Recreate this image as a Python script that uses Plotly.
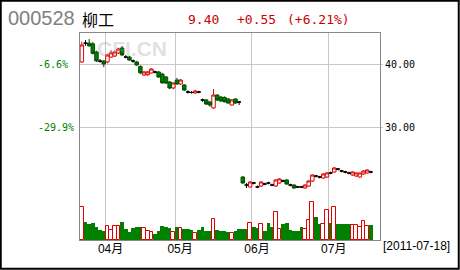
import plotly.graph_objects as go

# ---- data ----
opens = [40.32, 43.30, 43.30, 43.20, 41.90, 40.45, 40.48, 40.32, 41.10, 41.27,
         41.75, 42.54, 41.10, 41.11, 40.48, 40.32, 39.60, 38.25, 38.30, 38.57,
         38.73, 38.73, 38.40, 37.94, 37.14, 36.19, 37.46, 36.83, 36.67, 35.56,
         35.48, 35.40, 35.56, 34.29, 34.29, 33.97, 33.02, 35.08, 34.76, 34.70,
         34.45, 33.49, 34.45, 33.97, 22.06, 20.79, 20.48, 21.11, 20.48, 20.63,
         20.95, 21.11, 20.79, 20.63, 21.11, 21.43, 21.59, 20.79, 20.79, 20.48,
         20.48, 20.32, 20.63, 21.43, 22.22, 22.06, 21.90, 22.06, 22.70, 22.86,
         23.33, 23.02, 22.86, 22.70, 22.38, 22.22, 22.06, 22.54, 22.70, 22.86]
highs = [43.54, 43.80, 43.97, 43.50, 42.10, 40.80, 40.60, 41.60, 42.20, 42.10,
         42.60, 42.86, 41.40, 41.30, 40.70, 40.50, 39.80, 38.90, 38.90, 39.35,
         38.95, 38.90, 38.60, 38.10, 37.30, 37.10, 37.80, 37.60, 36.80, 35.80,
         35.70, 35.90, 35.75, 34.50, 34.40, 34.10, 36.03, 35.20, 34.90, 34.85,
         34.60, 34.40, 34.55, 34.10, 22.20, 21.10, 21.40, 21.30, 20.70, 21.40,
         21.15, 21.30, 21.00, 21.70, 21.90, 21.65, 21.75, 21.00, 20.90, 20.65,
         20.65, 20.90, 21.55, 22.50, 22.40, 22.25, 22.65, 22.85, 22.90, 23.65,
         23.50, 23.20, 23.05, 22.90, 22.95, 22.80, 22.80, 23.15, 23.30, 23.05]
lows = [40.20, 42.90, 42.70, 41.50, 40.30, 40.20, 39.50, 40.10, 41.00, 41.10,
        41.60, 41.30, 40.90, 40.50, 40.20, 39.70, 38.40, 38.10, 38.10, 38.50,
        38.50, 37.80, 36.90, 36.80, 36.00, 36.00, 36.70, 36.70, 35.70, 35.30,
        35.30, 35.30, 35.35, 34.00, 33.50, 33.20, 32.90, 34.10, 34.00, 33.90,
        33.70, 33.40, 33.70, 33.49, 21.00, 20.32, 20.40, 20.90, 20.30, 20.50,
        20.75, 20.90, 20.60, 20.50, 21.00, 21.25, 20.85, 20.60, 20.20, 20.30,
        20.30, 20.20, 20.50, 21.30, 22.00, 21.85, 21.80, 21.95, 22.50, 22.75,
        23.10, 22.80, 22.65, 22.50, 22.25, 22.10, 21.95, 22.40, 22.60, 22.65]
closes = [43.02, 43.30, 42.90, 41.70, 40.50, 40.45, 40.00, 41.43, 41.75, 41.90,
          42.38, 41.43, 41.10, 40.63, 40.48, 39.84, 38.60, 38.73, 38.75, 39.20,
          38.73, 37.94, 37.00, 36.98, 36.19, 36.98, 36.83, 37.46, 35.87, 35.56,
          35.48, 35.71, 35.56, 34.29, 33.65, 33.49, 35.08, 34.29, 34.13, 34.00,
          33.81, 34.29, 33.81, 33.97, 21.11, 20.79, 21.27, 21.11, 20.48, 21.27,
          20.95, 21.11, 20.79, 21.59, 21.75, 21.43, 20.95, 20.79, 20.32, 20.48,
          20.48, 20.79, 21.43, 22.38, 22.22, 22.06, 22.54, 22.70, 22.70, 23.49,
          23.33, 23.02, 22.86, 22.70, 22.86, 22.70, 22.70, 23.02, 23.17, 22.86]
volumes = [33, 17.6, 16, 17, 13, 10, 9, 14, 10, 14,
           14, 18, 11, 8, 12, 13, 13, 12, 9, 8,
           6, 9, 14, 13, 12, 8, 13, 12, 11, 11,
           10, 7, 10, 13, 9, 9, 21, 10, 9, 9,
           8, 7, 9, 11, 11, 11, 17, 13, 12, 16,
           9, 17, 13, 28, 11, 16, 17, 10, 9, 9,
           13, 11, 20, 38, 23, 16, 16, 30, 17, 33,
           16, 16, 16, 16, 15, 15, 13, 19, 14, 15]
month_pos = [7, 26, 47, 68]
month_labels = ["04月", "05月", "06月", "07月"]
price_ticks = [30, 40]
price_labels = ["30.00", "40.00"]
pct_labels = ["-29.9%", "-6.6%"]
code = "000528"
name = "柳工"
last_price = "9.40"
change = "+0.55"
change_pct = "(+6.21%)"
date_label = "[2011-07-18]"

# ---- layout geometry ----
W, H = 460, 270
L, R, T, B = 80, 80, 33, 30
PW, PH = W - L - R, H - T - B


def px(x):
    return (x - L) / PW


def py(y):
    return (H - B - y) / PH


RED = "#e00000"
GREEN = "#008000"
DGREEN = "#004d00"

n = len(opens)
xs = [i + 0.5 for i in range(n)]
up = [i for i in range(n) if closes[i] > opens[i]]
dn = [i for i in range(n) if closes[i] < opens[i]]
dj = [i for i in range(n) if closes[i] == opens[i]]


def pick(arr, idx):
    return [arr[i] for i in idx]


fig = go.Figure()

# volume bars
fig.add_trace(go.Bar(x=pick(xs, dn + dj), y=pick(volumes, dn + dj), yaxis="y3",
                     marker=dict(color=GREEN, line=dict(width=0)), showlegend=False))
fig.add_trace(go.Bar(x=pick(xs, up), y=pick(volumes, up), yaxis="y3",
                     marker=dict(color="white", line=dict(color=RED, width=1)),
                     showlegend=False))

# candles
fig.add_trace(go.Candlestick(x=pick(xs, up), open=pick(opens, up), high=pick(highs, up),
                             low=pick(lows, up), close=pick(closes, up),
                             increasing=dict(line=dict(color=RED, width=1), fillcolor="white"),
                             decreasing=dict(line=dict(color=RED, width=1), fillcolor="white"),
                             showlegend=False))
fig.add_trace(go.Candlestick(x=pick(xs, dn), open=pick(opens, dn), high=pick(highs, dn),
                             low=pick(lows, dn), close=pick(closes, dn),
                             increasing=dict(line=dict(color=DGREEN, width=1), fillcolor=GREEN),
                             decreasing=dict(line=dict(color=DGREEN, width=1), fillcolor=GREEN),
                             showlegend=False))
fig.add_trace(go.Candlestick(x=pick(xs, dj), open=pick(opens, dj), high=pick(highs, dj),
                             low=pick(lows, dj), close=pick(closes, dj),
                             increasing=dict(line=dict(color="black", width=1), fillcolor="black"),
                             decreasing=dict(line=dict(color="black", width=1), fillcolor="black"),
                             showlegend=False))

pmin = 40 - (H - B - 64) / 6.3
pmax = 40 + (64 - T) / 6.3

mono = "DejaVu Sans Mono"
fig.update_layout(
    width=W, height=H, margin=dict(l=L, r=R, t=T, b=B),
    paper_bgcolor="white", plot_bgcolor="white",
    barmode="overlay", bargap=0, boxgap=0.05, boxgroupgap=0,
    showlegend=False,
    xaxis=dict(range=[0, 82], tickvals=month_pos, ticktext=month_labels,
               showgrid=True, gridcolor="#c8c8c8", gridwidth=1, zeroline=False,
               showline=True, mirror=True, linecolor="#888888", linewidth=1,
               ticks="", ticklabelshift=5, ticklabelstandoff=-2,
               tickfont=dict(family="Liberation Sans, Noto Sans CJK SC", size=12, color="black"),
               rangeslider=dict(visible=False), fixedrange=True),
    yaxis=dict(range=[pmin, pmax], side="right", tickvals=price_ticks, ticktext=price_labels,
               showgrid=True, gridcolor="#c8c8c8", zeroline=False,
               showline=True, mirror=True, linecolor="#888888", linewidth=1,
               ticks="outside", ticklen=2, tickcolor="#c8c8c8",
               tickfont=dict(family=mono, size=10, color="black")),
    yaxis3=dict(range=[0, PH], overlaying="y", visible=False, fixedrange=True),
)

ann = []
for v, t in zip(price_ticks, pct_labels):
    ann.append(dict(x=px(36), y=v, xref="paper", yref="y", text=t, showarrow=False,
                    xanchor="left", yanchor="middle",
                    font=dict(family=mono, size=10, color=GREEN)))
ann += [
    dict(x=px(6), y=py(18.5), text=code, font=dict(family="Liberation Sans", size=20, color="#808080")),
    dict(x=px(80), y=py(19), text=name, font=dict(family="Noto Sans CJK SC", size=16, color="black")),
    dict(x=px(186), y=py(20), text=last_price, font=dict(family=mono, size=13, color="#cc0000")),
    dict(x=px(235), y=py(20), text=change, font=dict(family=mono, size=13, color="#cc0000")),
    dict(x=px(285), y=py(20), text=change_pct, font=dict(family=mono, size=13, color="#cc0000")),
    dict(x=px(381), y=py(246), text=date_label, font=dict(family="Liberation Sans", size=12, color="black")),
    dict(x=px(95), y=py(48.5), text="<b>CFI.CN</b>",
         font=dict(family="Liberation Sans", size=21, color="rgba(150,150,150,0.3)")),
]
for a in ann[2:]:
    a.update(xref="paper", yref="paper", showarrow=False, xanchor="left", yanchor="middle")
fig.update_layout(annotations=ann)

fig.add_shape(type="rect", xref="paper", yref="paper",
              x0=px(0.75), x1=px(W - 1.25), y0=py(H - 1.25), y1=py(0.75),
              line=dict(color="black", width=2), fillcolor="rgba(0,0,0,0)", layer="above")

fig.write_html("out.html")
